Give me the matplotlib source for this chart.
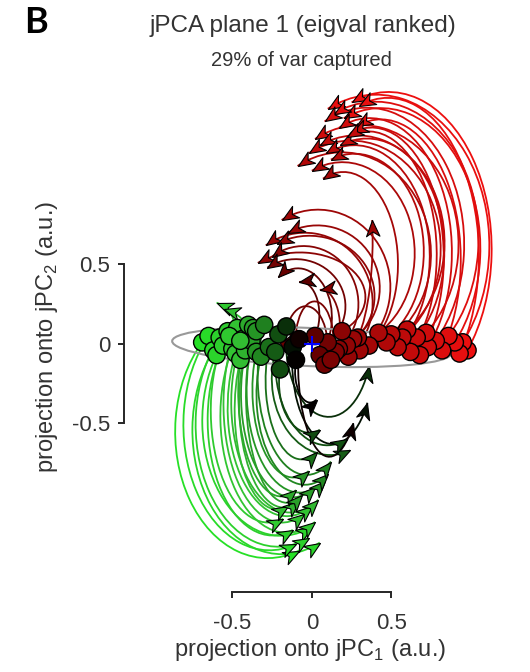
import numpy as np
import matplotlib
matplotlib.use("Agg")
import matplotlib.pyplot as plt
from matplotlib.colors import LinearSegmentedColormap, TwoSlopeNorm
from matplotlib.markers import MarkerStyle
from matplotlib.patches import PathPatch, Ellipse
from matplotlib.path import Path
from matplotlib.transforms import Affine2D

# -------------------------------------------------------
# jPCA plane 1 — rotational trajectories, one arc per condition
# -------------------------------------------------------

plt.rcParams["font.family"] = ["Liberation Sans", "DejaVu Sans"]
plt.rcParams["mathtext.fontset"] = "custom"
plt.rcParams["mathtext.rm"] = "Liberation Sans"

# start of each condition (circle) and end (arrow tip), in jPC1/jPC2 units
start_x = [0.98, 0.95, 0.93, 0.90, 0.86, 0.82, 0.78, 0.73, 0.72, 0.68, 0.66, 0.62, 0.60, 0.57, 0.54,
           0.50, 0.47, 0.42, 0.36,
           0.30, 0.29, 0.26, 0.23, 0.22, 0.19, 0.17, 0.15, 0.10, 0.05, 0.02, 0.08, 0.12,
           -0.69, -0.65, -0.62, -0.60, -0.58, -0.56, -0.53, -0.50, -0.48, -0.47, -0.45, -0.44,
           -0.42, -0.40, -0.38, -0.37,
           -0.35, -0.35, -0.32, -0.30, -0.27, -0.23, -0.21, -0.20,
           -0.52, -0.45,
           -0.16, -0.12, -0.08, -0.10]
start_y = [-0.04, 0.01, -0.06, 0.01, 0.05, -0.04, 0.02, -0.02, 0.07, -0.07, 0.04, -0.05, 0.09, 0.04, -0.02,
           0.06, 0.01, 0.07, -0.01,
           -0.04, 0.04, 0.03, -0.08, -0.01, 0.08, -0.03, -0.05, 0.01, -0.07, 0.05, -0.13, -0.10,
           0.01, 0.05, -0.04, -0.07, 0.04, -0.01, 0.08, -0.03, -0.06, 0.10, -0.10, 0.03,
           -0.04, 0.12, 0.02, 0.10,
           0.08, -0.05, -0.08, 0.12, -0.02, -0.05, 0.06, -0.16,
           0.05, 0.02,
           0.11, -0.02, 0.03, -0.10]
end_x = [0.25, 0.10, 0.30, 0.20, 0.14, 0.28, 0.08, 0.17, 0.02, 0.25, 0.18, 0.22, 0.05, -0.02, 0.09,
         0.12, -0.09, 0.00, 0.07,
         -0.19, 0.38, -0.15, -0.29, -0.22, -0.34, -0.25, 0.05, -0.28, -0.21, -0.08, -0.17, -0.10,
         -0.08, -0.10, 0.05, 0.00, -0.02, -0.12, -0.18, 0.02, 0.00, -0.05, -0.15, 0.04,
         -0.08, -0.10, -0.06, 0.02,
         0.08, -0.02, 0.10, 0.12, 0.03, 0.24, 0.22, 0.05,
         -0.60, -0.55,
         0.36, 0.35, 0.26, 0.03]
end_y = [1.52, 1.48, 1.50, 1.42, 1.45, 1.37, 1.40, 1.36, 1.29, 1.33, 1.25, 1.30, 1.25, 1.20, 1.20,
         1.16, 1.12, 1.09, 1.04,
         0.78, 0.78, 0.70, 0.62, 0.63, 0.51, 0.55, 0.34, 0.48, 0.42, 0.39, -0.05, -0.02,
         -1.30, -1.26, -1.25, -1.15, -1.22, -1.17, -1.10, -1.12, -1.02, -1.07, -1.02, -0.98,
         -0.99, -0.92, -0.95, -0.90,
         -0.86, -0.80, -0.82, -0.74, -0.68, -0.67, -0.60, -0.54,
         0.26, 0.22,
         -0.14, -0.37, -0.50, -0.35]
# phase (deg) at which each arc starts and stops on its ellipse
theta_start = [-40, -40, -38, -42, -45, -40, -45, -45, -48, -48, -50, -52, -55, -55, -55,
               -58, -60, -60, -62,
               -55, -60, -55, -50, -55, -50, -50, -40, -50, -50, -40, -30, -30,
               135, 135, 140, 145, 135, 140, 135, 145, 150, 140, 150, 145,
               150, 140, 150, 140,
               145, 155, 155, 150, 155, 160, 160, 165,
               -30, -30,
               170, 170, 165, 160]
theta_end = [111, 115, 108, 112, 114, 108, 116, 112, 118, 106, 110, 108, 115, 118, 112,
             110, 120, 115, 112,
             120, 10, 118, 125, 120, 130, 125, 95, 125, 125, 95, 190, 190,
             290, 288, 295, 293, 292, 288, 285, 295, 295, 292, 285, 298,
             290, 290, 292, 296,
             298, 292, 298, 300, 295, 290, 292, 290,
             60, 60,
             340, 330, 320, 295]

# variance ellipse and origin marker
ell_width, ell_height, ell_angle = 1.76, 0.24, -2.5
ell_center = (0.0, -0.02)
origin = (0.0, 0.0)

ticks = [-0.5, 0, 0.5]
tick_labels = ["-0.5", "0", "0.5"]


def arc_params(sx, sy, ex, ey, t0, t1):
    """Axis-aligned ellipse through start/end at the given phases."""
    a0, a1 = np.radians(t0), np.radians(t1)
    rx = (sx - ex) / (np.cos(a0) - np.cos(a1))
    ry = (sy - ey) / (np.sin(a0) - np.sin(a1))
    return sx - rx * np.cos(a0), sy - ry * np.sin(a0), rx, ry


# green -> black -> red, coloured by starting jPC1 position
cmap = LinearSegmentedColormap.from_list("gkr", [
    (0.0, (0.15, 0.88, 0.15)), (0.2, (0.2, 0.75, 0.2)), (0.33, (0.12, 0.5, 0.12)),
    (0.42, (0.06, 0.28, 0.06)), (0.5, (0, 0, 0)), (0.56, (0.38, 0.0, 0.0)),
    (0.65, (0.58, 0.02, 0.02)), (1.0, (0.93, 0.06, 0.06))])
norm = TwoSlopeNorm(vmin=min(start_x), vcenter=-0.1, vmax=max(start_x))
colors = [cmap(norm(x)) for x in start_x]

arrow_path = Path([(0, 0), (-1, 0.42), (-0.72, 0), (-1, -0.42), (0, 0)],
                  [Path.MOVETO, Path.LINETO, Path.LINETO, Path.LINETO, Path.CLOSEPOLY])

fig = plt.figure(figsize=(5.3, 6.72), dpi=100)
ax = fig.add_axes([0.1987, 0.0744, 0.7943, 0.8512])
ax.set_xlim(-1.3, 1.35)
ax.set_ylim(-1.75, 1.85)

for i in range(len(start_x)):
    cx, cy, rx, ry = arc_params(start_x[i], start_y[i], end_x[i], end_y[i], theta_start[i], theta_end[i])
    tr = Affine2D().scale(rx, ry).translate(cx, cy) + ax.transData
    ax.add_patch(PathPatch(Path.arc(theta_start[i], theta_end[i]), transform=tr,
                           fill=False, edgecolor=colors[i], lw=1.3, zorder=2))
    a1 = np.radians(theta_end[i])
    ang = np.degrees(np.arctan2(ry * np.cos(a1), -rx * np.sin(a1)))
    ax.plot(end_x[i], end_y[i], ls="none", marker=MarkerStyle(arrow_path).rotated(deg=ang),
            ms=23, mfc=colors[i], mec="black", mew=0.8, zorder=3)

ax.add_patch(Ellipse(ell_center, ell_width, ell_height, angle=ell_angle, fill=False,
                     edgecolor="0.6", lw=1.5, zorder=3.5))
ax.scatter(start_x, start_y, s=155, c=colors, edgecolors="black", linewidths=1.0, zorder=4)
ax.plot(*origin, marker="+", color="blue", ms=12, mew=1.5, zorder=5)

# floating axes with short bars
for side in ["top", "right"]:
    ax.spines[side].set_visible(False)
ax.spines["left"].set_position(("data", -1.18))
ax.spines["bottom"].set_position(("data", -1.56))
ax.spines["left"].set_bounds(-0.5, 0.5)
ax.spines["bottom"].set_bounds(-0.5, 0.5)
for side in ["left", "bottom"]:
    ax.spines[side].set_linewidth(1.4)
    ax.spines[side].set_color("0.15")
ax.set_xticks(ticks)
ax.set_xticklabels(tick_labels)
ax.set_yticks(ticks)
ax.set_yticklabels(tick_labels)
ax.tick_params(direction="out", length=4.3, width=1.4, color="0.15", labelsize=16, labelcolor="0.2")
ax.tick_params(axis="x", pad=11)
ax.tick_params(axis="y", pad=6)

fig.text(303 / 530, 1 - 32 / 672, "jPCA plane 1 (eigval ranked)", ha="center", va="baseline",
         fontsize=17.5, color="0.2")
fig.text(301 / 530, 1 - 66 / 672, "29% of var captured", ha="center", va="baseline",
         fontsize=14.5, color="0.2")
fig.text(24 / 530, 1 - 33 / 672, "B", ha="left", va="baseline", fontsize=26,
         fontweight="bold", family=["Lato", "DejaVu Sans"])
fig.text(310 / 530, 1 - 650 / 672, "projection onto jPC$_1$ (a.u.)", ha="center", va="center",
         fontsize=17, color="0.2")
fig.text(47 / 530, 1 - 337 / 672, "projection onto jPC$_2$ (a.u.)", ha="center", va="center",
         rotation=90, fontsize=17, color="0.2")

fig.savefig("out.png", dpi=100)
